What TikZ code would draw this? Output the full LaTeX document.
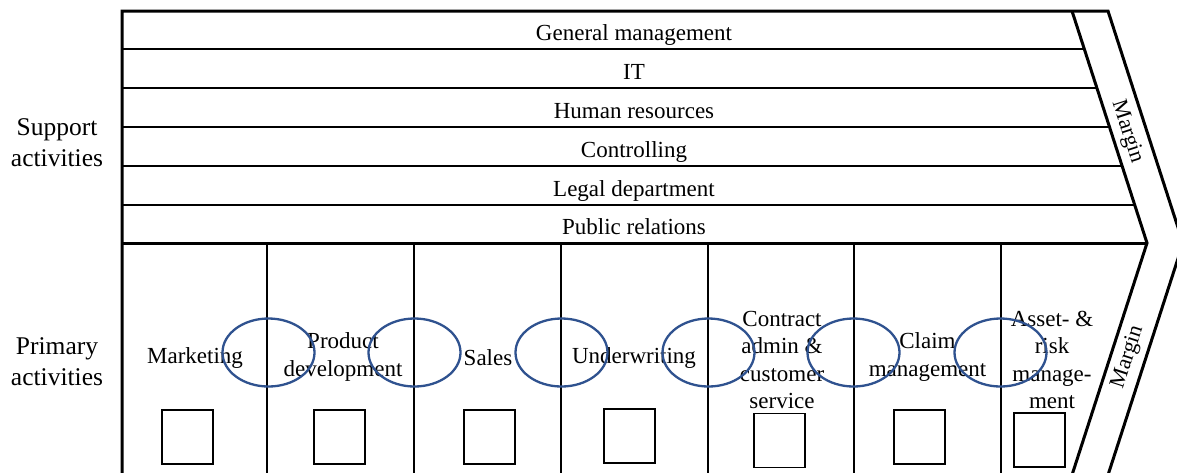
\documentclass[tikz,border=0pt]{standalone}
\usepackage{fontspec}
\setmainfont{Liberation Serif}
\definecolor{ellblue}{RGB}{47,82,143}
\begin{document}
\begin{tikzpicture}[x=1pt,y=-1pt,
  thickline/.style={line width=3pt,line join=miter},
  thinline/.style={line width=1.4pt},
  rowlabel/.style={inner sep=0pt,anchor=base,font=\fontsize{23}{27.5}\selectfont},
  collabel/.style={inner sep=0pt,align=center,font=\fontsize{23}{27.5}\selectfont},
  sidelabel/.style={inner sep=0pt,align=center,font=\fontsize{25.5}{31}\selectfont},
  marginlabel/.style={inner sep=0pt,font=\fontsize{22}{26}\selectfont},
  actbox/.style={draw,line width=1.1pt,minimum width=51pt,minimum height=54pt,inner sep=0pt},
  link/.style={draw=ellblue,line width=2.3pt}]
\useasboundingbox (0,0) rectangle (1177,472);
% chevron outline coordinates
\coordinate (tl) at (122,11);
\coordinate (bl) at (122,475);
\coordinate (itop) at (1072,11);
\coordinate (itip) at (1147,243);
\coordinate (ibot) at (1072,475);
\coordinate (otop) at (1108,11);
\coordinate (otip) at (1183,243);
\coordinate (obot) at (1108,475);
\coordinate (ml) at (122,243);
% support row lines
\foreach \y/\x in {49/1084.3,88/1096.9,127/1109.5,166/1122.1,205/1134.7}{
  \draw[thinline] (122,\y) -- (\x,\y);
}
% column lines
\foreach \x in {267,414,561,708,854,1001}{
  \draw[thinline] (\x,243) -- (\x,475);
}
% frame
\draw[thickline] (bl) -- (tl) -- (otop) -- (otip) -- (obot);
\draw[thickline] (itop) -- (itip) -- (ibot);
\draw[thickline] (ml) -- (itip);
% support labels
\node[rowlabel] (gm) at (634,40.4) {General management};
\node[rowlabel] (it) at (634,79.2) {IT};
\node[rowlabel] (hr) at (634,118.2) {Human resources};
\node[rowlabel] (co) at (634,157.2) {Controlling};
\node[rowlabel] (ld) at (634,196.2) {Legal department};
\node[rowlabel] (pr) at (634,234.6) {Public relations};
% side labels
\node[sidelabel] (sup) at (57,143) {Support\\activities};
\node[sidelabel] (pri) at (57,362) {Primary\\activities};
% margin labels
\node[marginlabel,rotate=-72] (m1) at (1127,132) {Margin};
\node[marginlabel,rotate=72] (m2) at (1128,357) {Margin};
% primary labels
\node[collabel] (mk) at (195,358) {Marketing};
\node[collabel] (pd) at (343,357) {Product\\development};
\node[collabel] (sa) at (488,358) {Sales};
\node[collabel] (uw) at (634,358) {Underwriting};
\node[collabel] (ca) at (782,360) {Contract\\admin \&\\customer\\service};
\node[collabel] (cm) at (927.5,357) {Claim\\management};
\node[collabel] (am) at (1052,360) {Asset- \&\\risk\\manage-\\ment};
% boxes
\node[actbox] (b1) at (187.5,437) {};
\node[actbox] (b2) at (339.5,437) {};
\node[actbox] (b3) at (489.5,437) {};
\node[actbox] (b4) at (629.5,436) {};
\node[actbox] (b5) at (779.5,440.5) {};
\node[actbox] (b6) at (919.5,437) {};
\node[actbox] (b7) at (1039.5,440) {};
% ellipses
\foreach \x/\n in {268.5/e1,414.5/e2,561.5/e3,708.5/e4,853.5/e5,1000.5/e6}{
  \draw[link] (\x,352.5) ellipse [x radius=46, y radius=34];
}
\end{tikzpicture}
\end{document}
